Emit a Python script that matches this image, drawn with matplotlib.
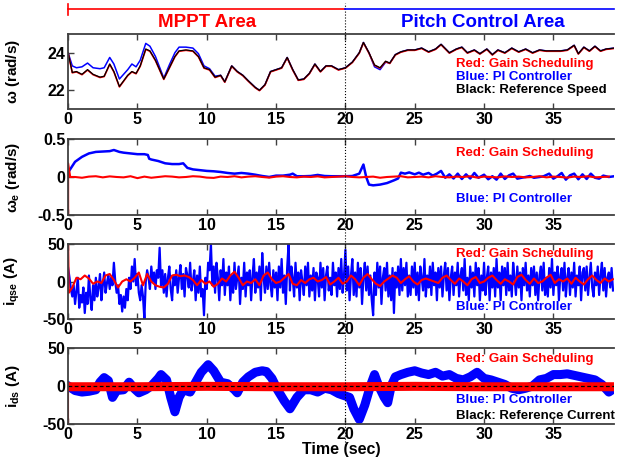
import numpy as np
import matplotlib.pyplot as plt
from matplotlib.font_manager import FontProperties
from matplotlib.transforms import blended_transform_factory

plt.rcParams['font.family'] = 'Liberation Sans'
plt.rcParams['font.weight'] = 'bold'
plt.rcParams['axes.labelweight'] = 'bold'
plt.rcParams['mathtext.fontset'] = 'custom'
plt.rcParams['mathtext.rm'] = 'Liberation Sans:bold'
plt.rcParams['mathtext.bf'] = 'Liberation Sans:bold'
plt.rcParams['mathtext.it'] = 'Liberation Sans:bold'

RED = '#ff0000'
BLUE = '#0000ff'
TICK_FONT = FontProperties(family='Liberation Sans', weight='bold', size=11.5)

# --- rotor speed (rad/s) ---
t_speed = [0, 0.3, 0.6, 1.0, 1.4, 1.8, 2.3, 2.6, 3.0, 3.3,
           3.7, 4.0, 4.3, 4.6, 4.9, 5.2, 5.6, 5.9, 6.3, 6.9,
           7.3, 7.7, 8.0, 8.5, 9.0, 9.4, 9.8, 10.2, 10.6, 11.0,
           11.3, 11.8, 12.2, 12.6, 13.0, 13.5, 13.8, 14.2, 14.6, 15.0,
           15.4, 15.8, 16.2, 16.6, 17.0, 17.4, 17.8, 18.2, 18.6, 19.0,
           19.5, 20.0, 20.5, 21.0, 21.3, 21.7, 22.1, 22.5, 22.9, 23.2,
           23.6, 24.0, 24.5, 25.0, 25.5, 26.0, 26.5, 26.9, 27.5, 28.0,
           28.4, 28.8, 29.3, 29.7, 30.2, 30.6, 31.0, 31.5, 32.0, 32.5,
           33.0, 33.5, 34.0, 34.5, 35.0, 35.5, 36.0, 36.5, 36.8, 37.2,
           37.6, 38.0, 38.4, 38.8, 39.4]
speed_ref = [24.0, 22.95, 23.0, 22.85, 23.1, 22.85, 22.7, 22.75, 23.4, 23.0,
             22.2, 22.5, 22.8, 23.0, 22.9, 23.3, 24.2, 24.1, 23.6, 22.6,
             23.2, 23.8, 24.1, 24.15, 24.1, 23.8, 23.2, 23.1, 22.7, 22.8,
             22.45, 23.3, 23.0, 22.8, 22.5, 22.15, 22.0, 22.3, 23.0, 23.1,
             23.2, 23.75, 23.1, 22.55, 22.6, 22.9, 23.4, 23.0, 23.3, 23.3,
             23.1, 23.2, 23.5, 24.0, 24.55, 24.0, 23.35, 23.2, 23.55, 23.45,
             23.9, 24.05, 24.15, 24.15, 24.25, 24.05, 24.2, 24.45, 24.0, 24.2,
             24.3, 24.0, 24.15, 23.95, 24.2, 23.9, 24.15, 24.0, 24.25, 24.05,
             24.2, 24.0, 24.15, 24.1, 24.1, 24.1, 24.15, 24.4, 23.95, 24.3,
             24.1, 24.35, 24.1, 24.2, 24.25]
speed_gs = [24.0, 22.93, 22.98, 22.83, 23.08, 22.83, 22.68, 22.73, 23.38, 22.98,
            22.18, 22.48, 22.78, 22.98, 22.88, 23.28, 24.18, 24.08, 23.58, 22.58,
            23.18, 23.78, 24.08, 24.13, 24.08, 23.78, 23.18, 23.08, 22.68, 22.78,
            22.43, 23.28, 22.98, 22.78, 22.48, 22.13, 21.98, 22.28, 22.98, 23.08,
            23.18, 23.73, 23.08, 22.53, 22.58, 22.88, 23.38, 22.98, 23.28, 23.28,
            23.08, 23.18, 23.48, 23.98, 24.53, 23.98, 23.33, 23.18, 23.53, 23.43,
            23.88, 24.03, 24.13, 24.13, 24.23, 24.03, 24.18, 24.43, 23.98, 24.18,
            24.28, 23.98, 24.13, 23.93, 24.18, 23.88, 24.13, 23.98, 24.23, 24.03,
            24.18, 23.98, 24.13, 24.08, 24.08, 24.08, 24.13, 24.38, 23.93, 24.28,
            24.08, 24.33, 24.08, 24.18, 24.23]
speed_pi = [24.0, 23.3, 23.2, 23.25, 23.45, 23.2, 23.15, 23.2, 23.75, 23.4,
            22.6, 22.85, 23.1, 23.4, 23.25, 23.6, 24.5, 24.35, 23.8, 22.65,
            23.35, 24.0, 24.3, 24.3, 24.25, 23.95, 23.3, 23.15, 22.75, 22.8,
            22.45, 23.3, 23.0, 22.8, 22.5, 22.15, 22.0, 22.3, 23.0, 23.1,
            23.2, 23.75, 23.1, 22.55, 22.6, 22.9, 23.4, 23.0, 23.3, 23.3,
            23.1, 23.2, 23.5, 24.0, 24.55, 24.0, 23.25, 23.1, 23.5, 23.45,
            23.9, 24.05, 24.15, 24.15, 24.25, 24.05, 24.2, 24.45, 24.0, 24.2,
            24.3, 24.0, 24.15, 23.95, 24.2, 23.9, 24.15, 24.0, 24.25, 24.05,
            24.2, 24.0, 24.15, 24.1, 24.1, 24.1, 24.15, 24.4, 23.95, 24.3,
            24.1, 24.35, 24.1, 24.2, 24.25]

# --- speed error (rad/s) ---
t_we_pi = [0, 0.5, 1, 1.5, 2, 2.5, 3, 3.3, 3.7, 4,
           4.5, 5, 5.5, 5.75, 5.85, 6, 6.5, 7, 7.5, 8,
           8.3, 8.6, 9, 9.5, 10, 10.5, 11, 11.5, 12, 12.5,
           13, 13.5, 14, 14.5, 15, 15.5, 16, 16.2, 16.5, 17,
           17.5, 18, 18.5, 19, 19.5, 20, 20.5, 21, 21.3, 21.5,
           21.7, 22, 22.5, 23, 23.5, 23.8, 24, 24.3, 24.6, 25,
           25.3, 25.6, 26, 26.3, 26.6, 26.9, 27.2, 27.5, 27.8, 28.1,
           28.4, 28.7, 29, 29.3, 29.6, 30, 30.3, 30.6, 30.9, 31.2,
           31.5, 31.8, 32.1, 32.4, 32.7, 33, 33.3, 33.6, 34, 34.3,
           34.7, 35, 35.3, 35.6, 35.9, 36.2, 36.5, 36.8, 37.1, 37.4,
           37.7, 38, 38.3, 38.6, 39, 39.4]
we_pi = [0.06, 0.2, 0.265, 0.31, 0.33, 0.335, 0.34, 0.355, 0.33, 0.32,
         0.31, 0.30, 0.30, 0.29, 0.24, 0.23, 0.21, 0.18, 0.17, 0.17,
         0.18, 0.12, 0.10, 0.09, 0.08, 0.075, 0.066, 0.053, 0.044, 0.053,
         0.044, 0.03, 0.013, 0.0, 0.018, 0.018, 0.03, 0.044, 0.01, 0.01,
         0.013, 0.027, 0.013, 0.01, 0.01, 0.01, 0.013, 0.044, 0.164, 0.0,
         -0.10, -0.11, -0.10, -0.08, -0.044, -0.02, 0.057, 0.044, 0.06, 0.035,
         0.057, 0.03, 0.053, 0.018, 0.044, 0.08, -0.01, 0.035, -0.02, 0.044,
         -0.026, 0.035, -0.02, 0.053, -0.01, 0.03, -0.03, 0.01, -0.035, 0.044,
         -0.026, 0.022, 0.044, -0.022, -0.01, 0.0, 0.013, -0.01, 0.0, 0.01,
         0.044, -0.022, 0.01, 0.053, -0.035, 0.022, 0.044, -0.03, 0.035, -0.026,
         0.044, -0.01, -0.022, 0.018, 0.0, 0.01]
we_gs_start = [-0.5, 0.18, 0.0]
we_gs = [0.0, -0.01, 0.005, 0.01, -0.005, 0.008, 0.0, -0.005, 0.01, -0.015,
         0.005, -0.01, 0.0, 0.01, 0.005, -0.005, 0.0, 0.01, 0.005, -0.008,
         -0.012, 0.005, 0.0, 0.01, -0.005, 0.005, 0.01, 0.0, -0.008, 0.005,
         0.01, 0.0, -0.005, 0.005, 0.0, 0.008, -0.005, 0.0, 0.005, 0.01,
         0.0, -0.005, 0.0, 0.005, -0.01, 0.0, 0.005, 0.01, -0.005, 0.0,
         0.005, -0.005, 0.01, 0.0, -0.005, 0.005, 0.0, 0.01, -0.008, 0.005,
         0.0, -0.005, 0.008, 0.0, 0.005, -0.005, 0.0, 0.01, -0.005, 0.005,
         0.0, -0.008, 0.005, 0.0, 0.01, -0.005, 0.0, 0.005]

# --- q-axis current (A), one row per second ---
iqse_pi = [18, 5, -10, -20, -5, -30, -12, 5, -35, -18,
           -28, -8, -42, -15, -30, 8, -22, -38, -5, -25,
           5, -20, -8, 10, -25, -5, 12, -15, -2, 8,
           -10, 5, -5, 25, 0, -15, -5, -30, -18, -40,
           -20, -35, -10, -25, 5, -10, 20, 0, 30, -5,
           10, -15, -25, -5, -20, -50, 0, 15, 5, -10,
           20, 0, 12, -10, 15, 5, 45, -5, 15, -15,
           10, -20, 5, 20, -10, -25, 8, -5, 15, -15,
           5, 22, -10, 10, -20, 18, 8, -8, 25, -12,
           0, 15, -25, 8, -15, 20, -20, -10, -45, 5,
           -10, 25, 15, 50, -5, 20, -15, 25, 5, -25,
           15, -5, 30, -18, 12, -5, 20, -25, 8, -15,
           25, -10, 5, 20, -30, 5, -10, 25, -20, 12,
           -5, 15, -25, 8, 30, -15, 12, -8, 20, -25,
           38, 5, -15, 20, -10, 25, -5, -20, 15, -8,
           12, -25, 20, -8, 30, -15, 8, -30, 18, 50,
           -12, 20, 5, -20, 25, -8, 12, -25, 15, 0,
           -18, 20, -5, 25, -20, 8, -12, 18, -25, 12,
           5, -20, 25, -8, 18, -25, 8, 20, -12, 5,
           -18, 25, -5, 12, -20, 18, -10, 30, -15, 8,
           42, -12, 20, -25, 8, 30, -18, 12, -20, 25,
           -8, 18, -30, 5, 25, -12, 20, -18, 8, -25,
           -45, 12, -18, 25, -8, 20, -30, 5, 18, -12,
           25, -20, 8, -25, 18, -42, 12, -8, 20, -18,
           30, -12, 18, -5, 25, -20, 8, -18, 20, -8,
           25, -18, 12, -25, 20, 5, -12, 30, -20, 8,
           -8, 20, -18, 25, -5, 12, -25, 18, -8, 20,
           -20, 8, 25, -12, 18, -25, 5, 20, -18, 12,
           -5, 25, -20, 8, 18, -12, 30, -18, 5, -25,
           20, -8, 12, -20, 25, -5, 18, -25, 8, -12,
           25, -18, 5, 20, -25, 12, -8, 18, -20, 30,
           -8, 12, -25, 20, -5, 18, -18, 25, -12, 8,
           -20, 25, 5, -18, 20, -8, 12, -25, 18, -5,
           25, -12, 8, -20, 18, -5, 20, -18, 12, -25,
           8, 20, -12, 25, -18, 5, -20, 18, -8, 30,
           -18, 12, -5, 20, -25, 8, 18, -12, 25, -20,
           5, 18, -18, 12, -8, 25, -20, 8, -5, 20,
           -25, 12, 18, -12, 20, -18, 5, 25, -8, -20,
           12, -5, 20, -18, 8, 25, -12, 18, -20, 5,
           12, -8, 18, -12]
iqse_gs = [50, -15,
           -8, 5, 3, 8, 4, -3, 0, -2, 8, 10,
           2, -8, 0, 3, 0, 5, 12, -5, 10, 0,
           -5, -7, -8, -3, 8, 9, 7, 8, 6, 2,
           -5, 2, -3, 0, -7, -3, 4, 0, 8, 13,
           5, -5, 0, -2, 3, -5, 8, 12, 3, -2,
           0, 5, 10, -3, -5, 2, -2, 3, 5, 0,
           2, 6, -4, 0, 5, -3, 0, 8, 3, -5,
           5, 10, 3, -3, -6, 0, 4, 8, 5, -2,
           3, 7, 0, -4, 2, 4, 2, 0, -2, 5,
           8, 2, -3, 4, 0, -5, 3, 6, -2, 0,
           5, 8, 2, -3, 3, 0, -4, 6, 9, 2,
           -3, 4, -2, 0, 5, 9, -2, 3, 0, 4,
           -3, 5, 0, -4, 3, 8, 2, -2, 4, 0,
           3]

# --- d-axis current (A) ---
t_ids = [0, 0.5, 1.0, 1.5, 2.0, 2.3, 2.6, 2.9, 3.2, 3.5,
         4.0, 4.4, 4.8, 5.1, 5.6, 6.0, 6.5, 6.7, 7.1, 7.4,
         7.7, 8.0, 8.3, 8.8, 9.2, 9.6, 10.1, 10.5, 11.0, 11.5,
         12.0, 12.2, 12.6, 13.0, 13.5, 14.0, 14.3, 14.7, 15.1, 15.6,
         16.0, 16.5, 17.0, 17.5, 18.0, 18.5, 19.0, 19.5, 19.8, 20.3,
         20.6, 21.0, 21.4, 21.8, 22.1, 22.4, 22.8, 23.05, 23.3, 23.6,
         24.0, 24.5, 25.0, 25.5, 26.0, 26.5, 27.0, 27.5, 28.0, 28.5,
         29.0, 29.5, 30.0, 30.5, 31.0, 31.5, 32.0, 32.5, 33.0, 33.5,
         34.0, 34.5, 35.0, 35.5, 36.0, 36.5, 37.0, 37.5, 38.0, 38.5,
         39.0, 39.4]
ids_pi = [0, -6, -8, -7, -5, 5, 11, 7, -15, -6,
          -5, 5, -4, -9, -5, 0, 10, 15, 8, -15,
          -34, -15, -5, -8, 5, 18, 28, 20, 5, 3,
          -5, -9, 5, 12, 18, 20, 19, 10, -5, -20,
          -30, -15, -5, -5, -8, -3, -5, -10, -12, -15,
          -30, -44, -25, 0, 15, 0, -15, -22, 0, 12,
          15, 18, 20, 17, 15, 18, 13, 15, 10, 8,
          12, 18, 10, 8, 5, 2, -3, -5, -3, 0,
          8, 10, 15, 15, 16, 14, 12, 10, 8, 2,
          -8, -3]
t_ids_gs = [0, 5, 10, 15, 20, 25, 30, 35, 39.4]
ids_gs = [-1, -1, -0.5, -1, -1, -0.5, -1, -1, -1]
ids_gs_start = [-50, 0]
ids_ref = [0, 0]

fig = plt.figure(figsize=(6.25, 4.59), dpi=100)
left, width = 0.109, 0.874
ax1 = fig.add_axes([left, 0.7625, width, 0.1634])
ax2 = fig.add_axes([left, 0.5316, width, 0.1656])
ax3 = fig.add_axes([left, 0.3050, width, 0.1634])
ax4 = fig.add_axes([left, 0.0763, width, 0.1656])


def style(ax, ylim, yticks, ylabels, ylabel):
    ax.set_xlim(0, 39.4)
    ax.set_ylim(*ylim)
    ax.tick_params(direction='in', top=True, right=False,
                   length=4, width=1, color='#404040', pad=2)
    ax.set_xticks(range(0, 40, 5), [str(v) for v in range(0, 40, 5)])
    ax.set_yticks(yticks, ylabels)
    for s in ['left', 'bottom', 'top']:
        ax.spines[s].set_color('#404040')
        ax.spines[s].set_linewidth(1.3)
    ax.spines['right'].set_visible(False)
    ax.set_ylabel(ylabel, fontsize=11, fontweight='bold')
    ax.yaxis.set_label_coords(-0.085, 0.5)


# speed
ax1.plot(t_speed, speed_pi, color=BLUE, lw=1.1)
ax1.plot(t_speed, speed_gs, color=RED, lw=1.2)
ax1.plot(t_speed, speed_ref, color='black', lw=0.9)
style(ax1, (21, 25), [22, 24], ['22', '24'], r'$\omega$ (rad/s)')
ax1.text(28.0, 23.38, 'Red: Gain Scheduling', color=RED, fontsize=9.5, va='center')
ax1.text(28.0, 22.73, 'Blue: PI Controller', color=BLUE, fontsize=9.5, va='center')
ax1.text(28.0, 22.02, 'Black: Reference Speed', color='black', fontsize=9.5, va='center')

# speed error
ax2.plot(t_we_pi, we_pi, color=BLUE, lw=1.8)
t_we_gs = np.concatenate(([0.0, 0.0, 0.15], np.linspace(0.5, 39.0, len(we_gs))))
ax2.plot(t_we_gs, we_gs_start + we_gs, color=RED, lw=1.5)
style(ax2, (-0.5, 0.5), [-0.5, 0, 0.5], ['-0.5', '0', '0.5'], r'$\omega_e$ (rad/s)')
ax2.text(28.0, 0.316, 'Red: Gain Scheduling', color=RED, fontsize=9.5, va='center')
ax2.text(28.0, -0.29, 'Blue: PI Controller', color=BLUE, fontsize=9.5, va='center')

# q-axis current
t_iq_pi = np.linspace(0, 39.3, len(iqse_pi))
ax3.plot(t_iq_pi, iqse_pi, color=BLUE, lw=1.6)
t_iq_gs = np.concatenate(([0.0, 0.05], np.linspace(0.3, 39.3, len(iqse_gs) - 2)))
ax3.plot(t_iq_gs, iqse_gs, color=RED, lw=1.5)
style(ax3, (-50, 50), [-50, 0, 50], ['-50', '0', '50'], r'$\mathbf{i_{qse}}$ (A)')
ax3.text(28.0, 36.7, 'Red: Gain Scheduling', color=RED, fontsize=9.5, va='center')
ax3.text(28.0, -34, 'Blue: PI Controller', color=BLUE, fontsize=9.5, va='center')

# d-axis current
ax4.plot(t_ids, ids_pi, color=BLUE, lw=6.5, solid_joinstyle='round')
ax4.plot(t_ids_gs, ids_gs, color=RED, lw=6.5)
ax4.plot([0, 0], ids_gs_start, color=RED, lw=1.5)
ax4.plot([0, 39.4], ids_ref, color='black', lw=0.9, ls=(0, (3, 2)))
style(ax4, (-50, 50), [-50, 0, 50], ['-50', '0', '50'], r'$\mathbf{i_{ds}}$ (A)')
ax4.text(28.0, 35.5, 'Red: Gain Scheduling', color=RED, fontsize=9.5, va='center')
ax4.text(28.0, -19, 'Blue: PI Controller', color=BLUE, fontsize=9.5, va='center')
ax4.text(28.0, -39.5, 'Black: Reference Current', color='black', fontsize=9.5, va='center')
ax4.set_xlabel('Time (sec)', fontsize=11.5, fontweight='bold', labelpad=0)

# operating regions above the plots
tr = blended_transform_factory(ax1.transData, fig.transFigure)
fig.add_artist(plt.Line2D([20, 20], [0.03, 0.993], transform=tr, color='black',
                          lw=0.8, ls=':'))
fig.add_artist(plt.Line2D([0, 20], [0.98, 0.98], transform=tr, color=RED, lw=1.2))
fig.add_artist(plt.Line2D([0, 0], [0.968, 0.992], transform=tr, color=RED, lw=1.2))
fig.add_artist(plt.Line2D([20, 39.4], [0.98, 0.98], transform=tr, color=BLUE, lw=1.2))
fig.text(10, 0.952, 'MPPT Area', transform=tr, color=RED, fontsize=13.5,
         fontweight='bold', ha='center', va='center')
fig.text(29.9, 0.952, 'Pitch Control Area', transform=tr, color=BLUE, fontsize=13.5,
         fontweight='bold', ha='center', va='center')

# bold tick labels on every panel
for ax in (ax1, ax2, ax3, ax4):
    for tick in ax.xaxis.get_major_ticks() + ax.yaxis.get_major_ticks():
        tick.label1.set_fontproperties(TICK_FONT)

fig.savefig('out.png', dpi=100)
